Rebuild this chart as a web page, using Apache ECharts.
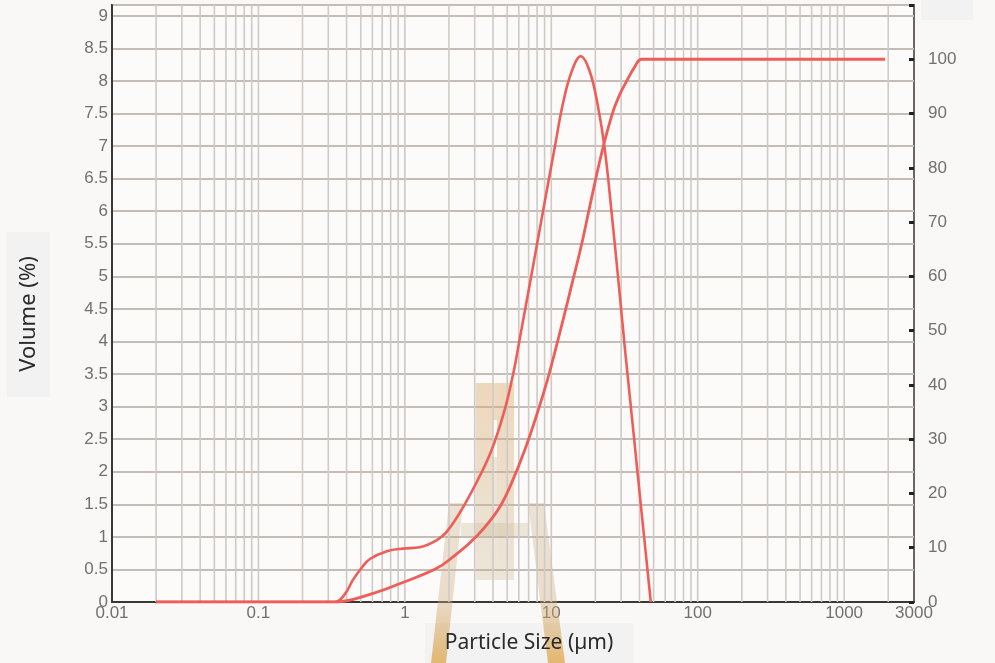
<!DOCTYPE html>
<html>
<head>
<meta charset="utf-8">
<script src="https://cdn.jsdelivr.net/npm/echarts@6/dist/echarts.min.js"></script>
<style>
  html, body { margin: 0; padding: 0; background: #faf8f7; }
  #chart { width: 995px; height: 663px; }
</style>
</head>
<body>
<div id="chart"></div>
<script>
// Particle size distribution: differential volume (%) and cumulative volume (%)
const sizeFreq = [0.02, 0.333, 0.389, 0.442, 0.509, 0.577, 0.754, 0.969, 1.265, 1.653, 1.935, 2.49, 3.36, 3.86, 4.31, 4.94, 5.55, 6.10, 6.70, 7.36, 9.03, 10.6, 12.0, 13.8, 15.9, 18.3, 20.8, 23.2, 25.9, 29.4, 31.8, 34.4, 37.2, 40.2, 43.5, 47.8];
const volumeFreq = [0, 0, 0.12, 0.34, 0.53, 0.66, 0.78, 0.82, 0.84, 0.95, 1.08, 1.45, 2.0, 2.3, 2.6, 3.05, 3.55, 4.05, 4.55, 5.05, 6.15, 7.0, 7.65, 8.15, 8.38, 8.15, 7.62, 6.95, 5.95, 4.7, 3.9, 3.15, 2.4, 1.65, 0.9, 0];

const sizeCum = [0.02, 0.333, 0.577, 0.969, 1.653, 2.13, 2.78, 3.52, 4.45, 5.37, 6.59, 7.96, 9.32, 10.57, 12.17, 14.02, 16.15, 18.32, 22.12, 26.29, 29.35, 32.76, 37.15, 41.5, 1900];
const volumeCum = [0, 0, 1.4, 3.6, 6.2, 8.3, 10.9, 13.8, 17.5, 22.0, 28.0, 34.5, 40.5, 46.0, 52.5, 59.2, 66.0, 72.9, 82.8, 90.2, 93.5, 96.0, 98.6, 100, 100];

// Axis ranges and tick labels
const xTickLabels = [0.01, 0.1, 1, 10, 100, 1000, 3000];
const leftTickLabels = [0, 0.5, 1, 1.5, 2, 2.5, 3, 3.5, 4, 4.5, 5, 5.5, 6, 6.5, 7, 7.5, 8, 8.5, 9];
const rightTickLabels = [0, 10, 20, 30, 40, 50, 60, 70, 80, 90, 100];
const xMin = 0.01, xMax = 3000;
const rightMax = 110;
const leftMax = rightMax / 12;

// Log-paper vertical rules: 1..9 x each decade inside the axis range
const logRules = [];
for (let e = -2; e <= 3; e++) {
  for (let k = 1; k <= 9; k++) {
    const v = +(k * Math.pow(10, e)).toPrecision(3);
    if (v > xMin && v < xMax) logRules.push([v, 0]);
  }
}

const labelFont = 'Liberation Sans';
const labelColor = '#707070';
const lineRed = '#ee5d58';

const chart = echarts.init(document.getElementById('chart'), null, { renderer: 'canvas' });

const onList = (list, v) => list.some(t => Math.abs(t - v) < 1e-6);

const legFill = {
  type: 'linear', x: 0, y: 0, x2: 0, y2: 1, colorStops: [
    { offset: 0, color: 'rgba(200,175,135,0.32)' },
    { offset: 0.6, color: 'rgba(205,170,120,0.38)' },
    { offset: 1, color: 'rgba(222,160,60,0.72)' }
  ]
};
const barFill = {
  type: 'linear', x: 0, y: 0, x2: 0, y2: 1, colorStops: [
    { offset: 0, color: 'rgba(220,172,110,0.45)' },
    { offset: 1, color: 'rgba(200,178,140,0.3)' }
  ]
};

chart.setOption({
  backgroundColor: '#faf8f7',
  animation: false,
  grid: {
    left: 112, right: 81, top: 5, bottom: 61,
    show: true, borderColor: '#6b6663', borderWidth: 2, backgroundColor: '#fcfbfa'
  },
  xAxis: {
    type: 'log', logBase: 10, min: xMin, max: xMax,
    axisLine: { show: true, lineStyle: { color: '#3a3735', width: 2 } },
    axisTick: { show: false },
    splitLine: { show: false },
    axisLabel: {
      color: labelColor, fontFamily: labelFont, fontSize: 17, margin: 3,
      formatter: v => onList(xTickLabels, v) ? String(+v.toPrecision(6)) : ''
    }
  },
  yAxis: [
    {
      type: 'value', min: 0, max: leftMax, interval: 0.5,
      axisLine: { show: true, lineStyle: { color: '#3a3735', width: 2 } },
      axisTick: { show: false },
      splitLine: { show: true, lineStyle: { color: '#c3bcb7', width: 2 } },
      axisLabel: {
        color: labelColor, fontFamily: labelFont, fontSize: 17, margin: 4,
        padding: [0, 0, 8, 0],
        formatter: v => onList(leftTickLabels, v) ? String(v) : ''
      }
    },
    {
      type: 'value', min: 0, max: rightMax, interval: 10, position: 'right',
      axisLine: { show: false },
      axisTick: { show: true, inside: true, length: 5, lineStyle: { color: '#222', width: 3 } },
      splitLine: { show: false },
      axisLabel: {
        color: labelColor, fontFamily: labelFont, fontSize: 17, margin: 14,
        formatter: v => onList(rightTickLabels, v) ? String(v) : ''
      }
    }
  ],
  series: [
    {
      name: 'rules', type: 'custom', xAxisIndex: 0, yAxisIndex: 0, z: 1, silent: true,
      data: logRules,
      renderItem: (params, api) => {
        const x = api.value(0);
        const p0 = api.coord([x, 0]);
        const p1 = api.coord([x, leftMax]);
        return {
          type: 'line',
          shape: { x1: p0[0], y1: p0[1], x2: p1[0], y2: p1[1] },
          style: { stroke: '#d0cac6', lineWidth: 1.6 }
        };
      }
    },
    {
      name: 'Volume (%)', type: 'line', yAxisIndex: 0, z: 3,
      data: sizeFreq.map((s, i) => [s, volumeFreq[i]]),
      smooth: 0.4, symbol: 'none',
      lineStyle: { color: lineRed, width: 2.6 }
    },
    {
      name: 'Cumulative (%)', type: 'line', yAxisIndex: 1, z: 3,
      data: sizeCum.map((s, i) => [s, volumeCum[i]]),
      smooth: 0.4, symbol: 'none',
      lineStyle: { color: lineRed, width: 2.8 }
    }
  ],
  graphic: {
    elements: [
      // caption panels
      { type: 'rect', z: 0, shape: { x: 7, y: 232, width: 43, height: 165 }, style: { fill: '#f2f2f2' } },
      { type: 'rect', z: 0, shape: { x: 425, y: 623, width: 208, height: 45 }, style: { fill: '#f2f2f2' } },
      { type: 'rect', z: 0, shape: { x: 921, y: 0, width: 52, height: 20 }, style: { fill: '#f2f2f2' } },
      // emblem
      { type: 'rect', z: 1, silent: true, shape: { x: 476, y: 383, width: 17, height: 197 }, style: { fill: barFill } },
      { type: 'rect', z: 1, silent: true, shape: { x: 497, y: 383, width: 17, height: 197 }, style: { fill: barFill } },
      { type: 'rect', z: 1, silent: true, shape: { x: 493, y: 383, width: 4, height: 37 }, style: { fill: 'rgba(215,172,115,0.42)' } },
      { type: 'rect', z: 1, silent: true, shape: { x: 493, y: 457, width: 4, height: 123 }, style: { fill: 'rgba(200,178,140,0.3)' } },
      { type: 'polygon', z: 1, silent: true, shape: { points: [[449, 503], [463, 503], [446, 663], [431, 663]] }, style: { fill: legFill } },
      { type: 'polygon', z: 1, silent: true, shape: { points: [[528, 503], [544, 503], [565, 663], [548, 663]] }, style: { fill: legFill } },
      { type: 'rect', z: 1, silent: true, shape: { x: 461, y: 523, width: 68, height: 13 }, style: { fill: 'rgba(200,178,140,0.3)' } },
      // axis captions
      { type: 'text', z: 10, x: 29, y: 314, rotation: Math.PI / 2,
        style: { text: 'Volume (%)', fill: '#2b2b2b', font: '22px "Noto Sans"', align: 'center', verticalAlign: 'middle' } },
      { type: 'text', z: 10, x: 529, y: 643,
        style: { text: 'Particle Size (µm)', fill: '#2b2b2b', font: '21px "Noto Sans"', align: 'center', verticalAlign: 'middle' } }
    ]
  }
});
</script>
</body>
</html>
